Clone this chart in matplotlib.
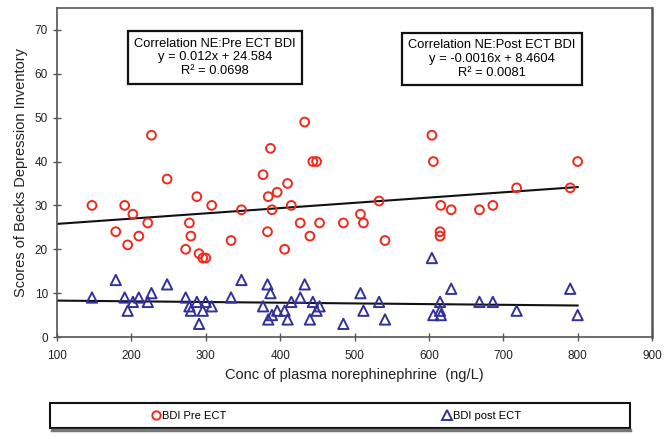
import matplotlib
matplotlib.use('Agg')

import matplotlib.pyplot as plt
import numpy as np
from matplotlib.lines import Line2D
from matplotlib.patches import Rectangle

plt.rcParams['font.family'] = ['Liberation Sans', 'DejaVu Sans']

# plasma norepinephrine (ng/L) and BDI scores before / after ECT
ne = [147, 179, 191, 195, 202, 210, 222, 227, 248, 273,
      278, 280, 288, 291, 296, 300, 308, 334, 348, 377,
      383, 384, 387, 389, 396, 406, 410, 415, 427, 433,
      440, 444, 449, 453, 485, 508, 512, 533, 541, 604,
      606, 615, 615, 616, 630, 668, 686, 718, 790, 800]
bdi_pre = [30, 24, 30, 21, 28, 23, 26, 46, 36, 20,
           26, 23, 32, 19, 18, 18, 30, 22, 29, 37,
           24, 32, 43, 29, 33, 20, 35, 30, 26, 49,
           23, 40, 40, 26, 26, 28, 26, 31, 22, 46,
           40, 24, 23, 30, 29, 29, 30, 34, 34, 40]
bdi_post = [9, 13, 9, 6, 8, 9, 8, 10, 12, 9,
            7, 6, 8, 3, 6, 8, 7, 9, 13, 7,
            12, 4, 10, 5, 6, 6, 4, 8, 9, 12,
            4, 8, 6, 7, 3, 10, 6, 8, 4, 18,
            5, 8, 6, 5, 11, 8, 8, 6, 11, 5]

# trend lines as reported in the chart
pre_fit = (0.012, 24.584, 0.0698)
post_fit = (-0.0016, 8.4604, 0.0081)
fit_range = [100, 800]

red = '#ee2a1c'
blue = '#32329a'
frame = '#555555'

fig = plt.figure(figsize=(6.66, 4.37), dpi=100)
ax = fig.add_axes([0.0856, 0.2288, 0.8934, 0.7529])

ax.scatter(ne, bdi_pre, s=40, facecolors='none', edgecolors=red,
           linewidths=1.4, marker='o', zorder=3)
ax.scatter(ne, bdi_post, s=55, facecolors='none', edgecolors=blue,
           linewidths=1.4, marker='^', zorder=3)

xf = np.array(fit_range, dtype=float)
ax.plot(xf, pre_fit[0] * xf + pre_fit[1], color='#111111', lw=1.5, zorder=2)
ax.plot(xf, post_fit[0] * xf + post_fit[1], color='#111111', lw=1.5, zorder=2)

ax.set_xlim(100, 900)
ax.set_ylim(0, 75)
ax.set_xticks(range(100, 901, 100))
ax.set_yticks(range(0, 71, 10))
ax.tick_params(axis='both', direction='inout', length=6, width=1,
               color=frame, labelsize=8.5, labelcolor='#222222')
ax.tick_params(axis='x', pad=6)
for side, sp in ax.spines.items():
    sp.set_color(frame)
    sp.set_linewidth(1.2)
ax.spines['right'].set_linewidth(1.8)

ax.set_xlabel('Conc of plasma norephinephrine  (ng/L)', fontsize=10.5,
              color='#222222', labelpad=5)
ax.set_ylabel('Scores of Becks Depression Inventory', fontsize=10.5,
              color='#222222', labelpad=5)

box = dict(boxstyle='square,pad=0.5', facecolor='white',
           edgecolor='#111111', linewidth=1.6)
ax.text(0.2655, 0.85,
        'Correlation NE:Pre ECT BDI\ny = %.3fx + %.3f\nR\u00b2 = %.4f'
        % pre_fit, transform=ax.transAxes, ha='center', va='center',
        fontsize=9.3, linespacing=1.2, bbox=box, zorder=5)
ax.text(0.731, 0.845,
        'Correlation NE:Post ECT BDI\ny = %.4fx + %.4f\nR\u00b2 = %.4f'
        % post_fit, transform=ax.transAxes, ha='center', va='center',
        fontsize=9.3, linespacing=1.2, bbox=box, zorder=5)

# legend frame below the chart, with a grey shadow line under it
fig.add_artist(Line2D([52 / 666, 630 / 666], [1 - 430 / 437, 1 - 430 / 437],
                      transform=fig.transFigure, color='#777777', lw=2.5))
fig.patches.append(Rectangle((50 / 666, 1 - 428 / 437), 580 / 666, 25 / 437,
                             transform=fig.transFigure, facecolor='white',
                             edgecolor='#111111', linewidth=1.5))
handles = [Line2D([], [], ls='none', marker='o', ms=6, mfc='none',
                  mec=red, mew=1.4),
           Line2D([], [], ls='none', marker='^', ms=6.5, mfc='none',
                  mec=blue, mew=1.4)]
fig.legend(handles, ['BDI Pre ECT', 'BDI post ECT'], ncol=2,
           loc='center left', bbox_to_anchor=(142 / 666, 1 - 416 / 437),
           frameon=False, fontsize=8, handlelength=0.8, handletextpad=0.1,
           columnspacing=19.5)

plt.savefig('out.png', dpi=100)
plt.close(fig)
